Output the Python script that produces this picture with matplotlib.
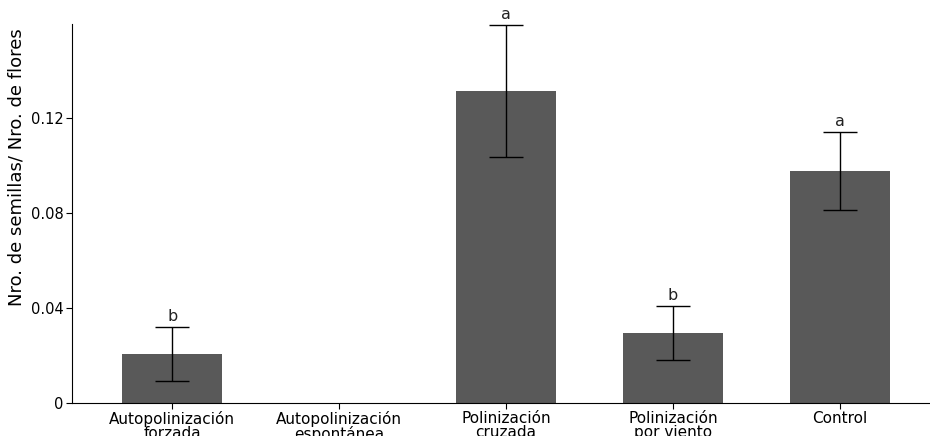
import numpy as np
import matplotlib.pyplot as plt

# datos
tratamientos = ["Autopolinización\nforzada", "Autopolinización\nespontánea",
                "Polinización\ncruzada", "Polinización\npor viento", "Control"]
medias = [0.0206, 0.0, 0.1311, 0.0294, 0.0975]
errores = [0.0113, 0.0, 0.0277, 0.0113, 0.0165]
letras = ["b", "", "a", "b", "a"]

fig = plt.figure(figsize=(9.3, 4.36), dpi=100)
ax = fig.add_axes([72/930, 33/436, 858/930, 379/436])

x = np.arange(len(tratamientos))
ax.bar(x, medias, width=0.6, color="#595959")
for i in range(len(x)):
    if errores[i] > 0:
        ax.errorbar(x[i], medias[i], yerr=errores[i], color="black",
                    capsize=12, elinewidth=1, capthick=1)
    if letras[i]:
        ax.text(x[i], medias[i] + errores[i] + 0.0012, letras[i],
                ha="center", va="bottom", fontsize=11.5, color="#222222")

ax.set_xlim(-0.6, 4.54)
ax.set_ylim(0, 0.1593)
ax.set_yticks([0, 0.04, 0.08, 0.12])
ax.set_yticklabels(["0", "0.04", "0.08", "0.12"])
ax.set_xticks(x)
ax.set_xticklabels(tratamientos, fontsize=11, linespacing=0.9)
ax.tick_params(axis="y", labelsize=10.5, length=4, pad=2)
ax.tick_params(axis="x", length=4, pad=2)
ax.set_ylabel("Nro. de semillas/ Nro. de flores", fontsize=13)
ax.yaxis.set_label_coords(-0.054, 0.623)
ax.spines["top"].set_visible(False)
ax.spines["right"].set_visible(False)

plt.savefig("out.png", dpi=100)
